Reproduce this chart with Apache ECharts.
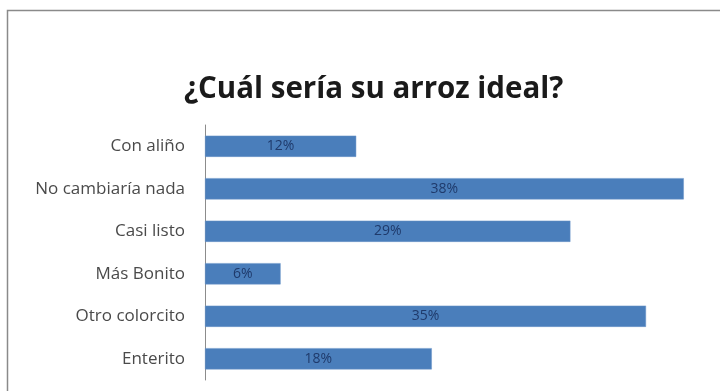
<!DOCTYPE html>
<html lang="es">
<head>
<meta charset="UTF-8">
<title>¿Cuál sería su arroz ideal?</title>
<script src="https://cdn.jsdelivr.net/npm/echarts@6/dist/echarts.min.js"></script>
</head>
<body style="margin:0;background:#fff">
<div id="main" style="width:720px;height:391px"></div>
<script type="text/javascript">
// datos (de abajo hacia arriba, como en el eje de categorías)
var categorias = ['Enterito', 'Otro colorcito', 'Más Bonito', 'Casi listo', 'No cambiaría nada', 'Con aliño'];
var porcentajes = [18, 35, 6, 29, 38, 12];

var myChart = echarts.init(document.getElementById('main'));
myChart.setOption({
    backgroundColor: '#ffffff',
    animation: false,
    graphic: [{
        type: 'rect',
        shape: { x: 7.5, y: 10.5, width: 730, height: 400 },
        style: { fill: 'none', stroke: '#8a8a8a', lineWidth: 1.5 }
    }],
    title: {
        text: '¿Cuál sería su arroz ideal?',
        left: 179,
        top: 70,
        textStyle: {
            fontFamily: 'Open Sans',
            fontWeight: 'bold',
            fontSize: 29.5,
            color: '#1a1a1a'
        }
    },
    grid: {
        left: 205,
        top: 125,
        width: 504,
        height: 255
    },
    xAxis: {
        type: 'value',
        min: 0,
        max: 40,
        show: false
    },
    yAxis: {
        type: 'category',
        data: categorias,
        axisLine: { show: true, lineStyle: { color: '#8c8c8c', width: 1 } },
        axisTick: { show: false },
        axisLabel: {
            margin: 20,
            fontFamily: 'Open Sans',
            fontSize: 17,
            color: '#4a4a4a'
        }
    },
    series: [{
        type: 'bar',
        data: porcentajes,
        barWidth: '50%',
        itemStyle: { color: '#4a7ebb', borderColor: '#6b95c8', borderWidth: 0.5 },
        label: {
            show: true,
            position: 'inside',
            formatter: '{c}%',
            fontFamily: 'Open Sans',
            fontSize: 14,
            color: '#1f3a6b'
        }
    }]
});
</script>
</body>
</html>
